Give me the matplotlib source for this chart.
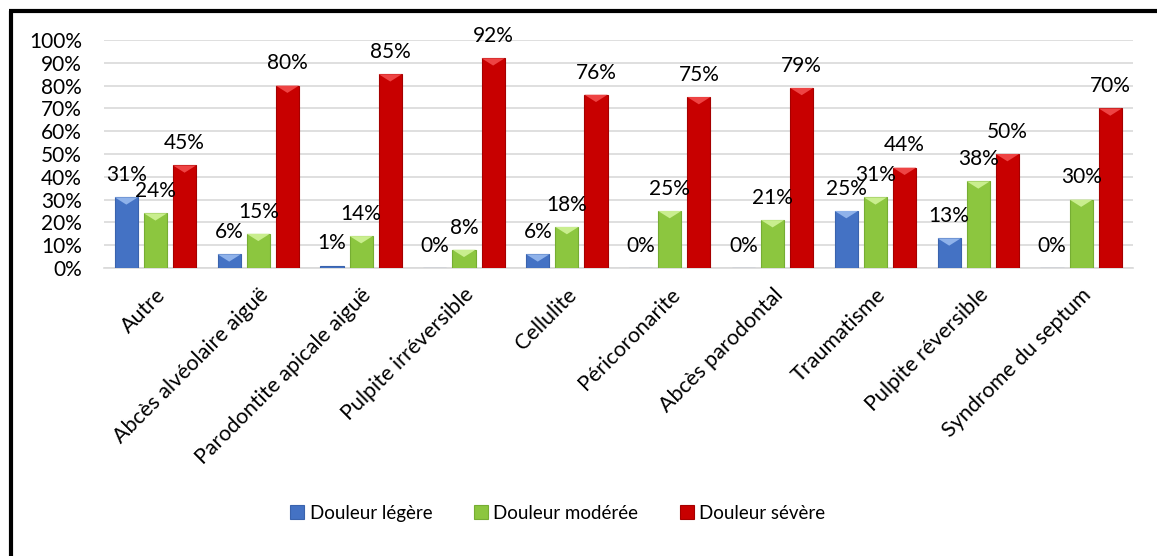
import numpy as np
import matplotlib
matplotlib.use('Agg')
import matplotlib.pyplot as plt
from matplotlib.lines import Line2D
from matplotlib.patches import Polygon

plt.rcParams['font.family'] = ['Lato', 'DejaVu Sans']

# ── data ───────────────────────────────────────────────────────────
categories = [
    'Autre', 'Abcès alvéolaire aiguë', 'Parodontite apicale aiguë',
    'Pulpite irréversible', 'Cellulite', 'Péricoronarite',
    'Abcès parodontal', 'Traumatisme', 'Pulpite réversible',
    'Syndrome du septum',
]
legere  = [31, 6, 1, 0, 6, 0, 0, 25, 13, 0]
moderee = [24, 15, 14, 8, 18, 25, 21, 31, 38, 30]
severe  = [45, 80, 85, 92, 76, 75, 79, 44, 50, 70]
series_names = ['Douleur légère', 'Douleur modérée', 'Douleur sévère']
yticks = [0, 10, 20, 30, 40, 50, 60, 70, 80, 90, 100]

# ── style ──────────────────────────────────────────────────────────
FILL  = ['#4472C4', '#8CC63F', '#C80000']
EDGE  = ['#3A63AD', '#76AD33', '#A50000']
LIGHT = ['#8FB2EA', '#C9EE8E', '#EE4444']
BAR_W = 0.225
STEP  = 0.283
FS_NUM = 15
FS_CAT = 15.5
FS_LEG = 13.5

fig = plt.figure(figsize=(11.57, 5.56), dpi=100)
ax = fig.add_axes([0.0899, 0.518, 0.889, 0.410])

x = np.arange(len(categories))
all_series = [legere, moderee, severe]

for k, vals in enumerate(all_series):
    xs = x + (k - 1) * STEP
    bars = ax.bar(xs, vals, width=BAR_W, color=FILL[k], edgecolor=EDGE[k],
                  linewidth=0.8, zorder=3, label=series_names[k])
    for b, v in zip(bars, vals):
        # bevelled top of the 3D-looking bar
        if v >= 2:
            h = min(3.2, v)
            x0, x1 = b.get_x(), b.get_x() + b.get_width()
            tri = Polygon([[x0, v], [x1, v], [(x0 + x1) / 2, v - h]],
                          closed=True, facecolor=LIGHT[k], edgecolor='none',
                          zorder=4)
            ax.add_patch(tri)
        ax.annotate(f'{v}%', (b.get_x() + b.get_width() / 2, v),
                    xytext=(0, 16), textcoords='offset points',
                    ha='center', va='center', fontsize=FS_NUM, color='black',
                    zorder=5)

ax.set_xlim(-0.5, len(categories) - 0.5)
ax.set_ylim(0, 100)
ax.set_yticks(yticks)
ax.set_yticklabels([f'{t}%' for t in yticks], fontsize=FS_NUM)
ax.set_xticks(x)
ax.set_xticklabels(categories, rotation=45, ha='right',
                   rotation_mode='anchor', fontsize=FS_CAT)
ax.tick_params(axis='both', length=0)
ax.tick_params(axis='y', pad=16)
ax.tick_params(axis='x', pad=12)

ax.grid(axis='y', color='#D9D9D9', linewidth=1.2, zorder=0)
ax.set_axisbelow(True)
for side in ['left', 'right', 'top']:
    ax.spines[side].set_visible(False)
ax.spines['bottom'].set_color('#D9D9D9')
ax.spines['bottom'].set_linewidth(1.2)

leg = fig.legend(loc='center', bbox_to_anchor=(0.482, 0.077), ncol=3,
                 frameon=False, fontsize=FS_LEG, handlelength=0.75,
                 handleheight=0.75, handletextpad=0.3, columnspacing=2.2)

# black frame on left and top edges
fig.add_artist(Line2D([0.0095, 0.0095], [0.0, 0.98], color='black',
                      linewidth=3.0, transform=fig.transFigure,
                      solid_capstyle='butt'))
fig.add_artist(Line2D([0.0082, 1.0], [0.98, 0.98], color='black',
                      linewidth=3.0, transform=fig.transFigure,
                      solid_capstyle='butt'))

fig.savefig('out.png', dpi=100)
